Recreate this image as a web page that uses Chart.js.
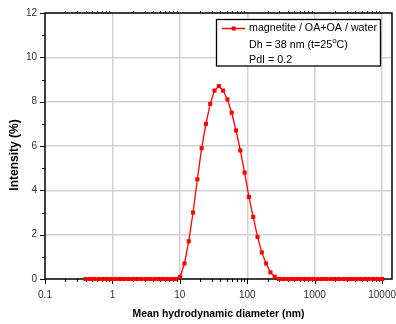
<!DOCTYPE html>
<html><head><meta charset="utf-8">
<script src="https://cdn.jsdelivr.net/npm/chart.js@4/dist/chart.umd.min.js"></script>
<style>html,body{margin:0;padding:0;background:#fff}</style>
</head><body>
<canvas id="c" width="396" height="324" style="width:396px;height:324px;display:block"></canvas>
<script>
// Malvern size bins (nm)
const diameters = [0.4, 0.4632, 0.5365, 0.6213, 0.7195, 0.8332, 0.9649, 1.117, 1.294, 1.499,
  1.736, 2.010, 2.328, 2.696, 3.122, 3.615, 4.187, 4.849, 5.615, 6.503,
  7.531, 8.721, 10.10, 11.70, 13.54, 15.69, 18.17, 21.04, 24.36, 28.21,
  32.67, 37.84, 43.82, 50.75, 58.77, 68.06, 78.82, 91.28, 105.7, 122.4,
  141.8, 164.2, 190.1, 220.2, 255.0, 295.3, 342.0, 396.1, 458.7, 531.2,
  615.1, 712.4, 825.0, 955.4, 1106, 1281, 1484, 1718, 1990, 2305,
  2669, 3091, 3580, 4145, 4801, 5560, 6439, 7456, 8635, 10000];
// Intensity (%)
const intensity = [0, 0, 0, 0, 0, 0, 0, 0, 0, 0,
  0, 0, 0, 0, 0, 0, 0, 0, 0, 0,
  0, 0, 0.1, 0.7, 1.7, 3.0, 4.5, 5.9, 7.0, 7.9,
  8.5, 8.7, 8.5, 8.1, 7.5, 6.7, 5.8, 4.8, 3.7, 2.8,
  1.9, 1.2, 0.7, 0.3, 0.1, 0, 0, 0, 0, 0,
  0, 0, 0, 0, 0, 0, 0, 0, 0, 0,
  0, 0, 0, 0, 0, 0, 0, 0, 0, 0];
const xTickValues = [0.1, 1, 10, 100, 1000, 10000];
const xTickLabels = ['0.1', '1', '10', '100', '1000', '10000'];
const yTickValues = [0, 2, 4, 6, 8, 10, 12];
const yTickLabels = ['0', '2', '4', '6', '8', '10', '12'];
const seriesLabel = 'magnetite / OA+OA / water';
const xTitle = 'Mean hydrodynamic diameter (nm)';
const yTitle = 'Intensity (%)';
const infoLine1 = ['Dh = 38 nm (t=25', 'o', 'C)'];
const infoLine2 = 'PdI = 0.2';

const FONT = '"Liberation Sans", Arial, sans-serif';

const decoration = {
  id: 'decoration',
  beforeDatasetsDraw(chart) {
    const { ctx, chartArea: a, scales: { x, y } } = chart;
    ctx.save();
    ctx.strokeStyle = '#000';
    ctx.lineWidth = 1;
    ctx.beginPath();
    for (let d = 0.1; d <= 10000 * 1.001; d *= 10) {
      for (let k = 1; k <= 9; k++) {
        const v = k * d;
        if (v > x.max) break;
        const px = Math.round(x.getPixelForValue(v)) + 0.5;
        const len = k === 1 ? 5 : 3;
        ctx.moveTo(px, a.bottom);
        ctx.lineTo(px, a.bottom + len);
        if (k !== 1) {
          ctx.moveTo(px, a.top);
          ctx.lineTo(px, a.top - 2);
        }
      }
    }
    for (let v = 0; v <= 12; v++) {
      const py = Math.round(y.getPixelForValue(v)) + 0.5;
      const len = v % 2 === 0 ? 5 : 3;
      ctx.moveTo(a.left, py);
      ctx.lineTo(a.left - len, py);
    }
    ctx.stroke();
    ctx.lineWidth = 1.5;
    ctx.strokeRect(a.left, a.top, a.right - a.left, a.bottom - a.top);
    ctx.restore();
  },
  afterDraw(chart) {
    const { ctx, chartArea: a } = chart;
    ctx.save();
    ctx.fillStyle = '#000';
    ctx.font = 'bold 10.4px ' + FONT;
    ctx.textAlign = 'center';
    ctx.textBaseline = 'middle';
    ctx.fillText(xTitle, (a.left + a.right) / 2, 314);
    ctx.translate(15, 155);
    ctx.rotate(-Math.PI / 2);
    ctx.font = 'bold 12px ' + FONT;
    ctx.fillText(yTitle, 0, 0);
    ctx.restore();

    ctx.save();
    const bx = 216.5, by = 19.5, bw = 164, bh = 46.5;
    ctx.fillStyle = '#fff';
    ctx.fillRect(bx, by, bw, bh);
    ctx.strokeStyle = '#000';
    ctx.lineWidth = 1.3;
    ctx.strokeRect(bx, by, bw, bh);
    ctx.strokeStyle = '#ff0000';
    ctx.lineWidth = 1.5;
    ctx.beginPath();
    ctx.moveTo(222, 28.5);
    ctx.lineTo(245, 28.5);
    ctx.stroke();
    ctx.fillStyle = '#ff0000';
    ctx.fillRect(231.7, 26.5, 4, 4);
    ctx.fillStyle = '#000';
    ctx.font = '10.7px ' + FONT;
    ctx.textAlign = 'left';
    ctx.textBaseline = 'middle';
    const tx = 249;
    ctx.fillText(seriesLabel, tx, 28.5);
    let cx = tx;
    ctx.fillText(infoLine1[0], cx, 45);
    cx += ctx.measureText(infoLine1[0]).width;
    ctx.font = '8px ' + FONT;
    ctx.fillText(infoLine1[1], cx, 41);
    cx += ctx.measureText(infoLine1[1]).width;
    ctx.font = '10.7px ' + FONT;
    ctx.fillText(infoLine1[2], cx, 45);
    ctx.fillText(infoLine2, tx, 60);
    ctx.restore();
  }
};

new Chart(document.getElementById('c'), {
  type: 'line',
  data: {
    datasets: [{
      label: seriesLabel,
      data: diameters.map((d, i) => ({ x: d, y: intensity[i] })),
      borderColor: '#ff0000',
      backgroundColor: '#ff0000',
      borderWidth: 1.3,
      pointStyle: 'rect',
      pointRadius: 2.9,
      pointBorderWidth: 0,
      tension: 0,
      clip: false
    }]
  },
  options: {
    responsive: false,
    animation: false,
    devicePixelRatio: 1,
    layout: { padding: { left: 0, top: 13, right: 2, bottom: 0 } },
    plugins: { legend: { display: false }, tooltip: { enabled: false } },
    scales: {
      x: {
        type: 'logarithmic',
        min: 0.1,
        max: 14000,
        afterBuildTicks: s => { s.ticks = xTickValues.map(v => ({ value: v, major: true })); },
        afterFit: s => { s.height = 45; s.paddingLeft = 0; s.paddingRight = 0; },
        ticks: {
          autoSkip: false,
          maxRotation: 0,
          padding: 10,
          color: '#333',
          font: { family: FONT, size: 10 },
          callback: (v) => xTickLabels[xTickValues.indexOf(v)]
        },
        grid: {
          drawTicks: false,
          color: (c) => (c.tick && c.tick.value === 0.1) ? 'rgba(0,0,0,0)' : '#d2d2d2',
          lineWidth: 1.5
        },
        border: { display: false }
      },
      y: {
        type: 'linear',
        min: 0,
        max: 12,
        afterBuildTicks: s => { s.ticks = yTickValues.map(v => ({ value: v })); },
        afterFit: s => { s.width = 45; s.paddingTop = 0; s.paddingBottom = 0; },
        ticks: {
          padding: 8,
          color: '#333',
          font: { family: FONT, size: 10 },
          callback: (v) => yTickLabels[yTickValues.indexOf(v)]
        },
        grid: {
          drawTicks: false,
          color: (c) => (c.tick && (c.tick.value === 0 || c.tick.value === 12)) ? 'rgba(0,0,0,0)' : '#d2d2d2',
          lineWidth: 1.5
        },
        border: { display: false }
      }
    }
  },
  plugins: [decoration]
});
</script>
</body></html>
